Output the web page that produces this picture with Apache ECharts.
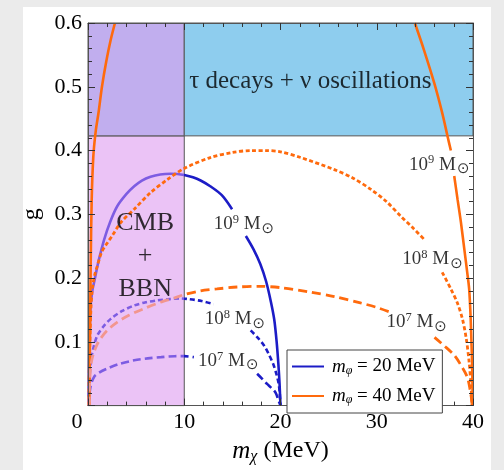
<!DOCTYPE html>
<html><head><meta charset="utf-8">
<script src="https://cdn.jsdelivr.net/npm/echarts@6/dist/echarts.min.js"></script>
<style>
html,body{margin:0;padding:0;background:#ebebeb;width:504px;height:470px;overflow:hidden;}
#panel{position:absolute;left:23px;top:7px;width:468px;height:463px;background:#fff;}
#chart{position:absolute;left:0;top:0;width:504px;height:470px;}
</style></head><body>
<div id="panel"></div><div id="chart"></div>
<script>
const FONT = 'Liberation Serif';

// Curves: [m_chi (MeV), g]; a null g leaves the gap where the contour label sits
const blue1e9 = [[0.05,0],[0.1,0.06],[0.18,0.12],[0.28,0.157],[0.45,0.18],[0.63,0.193],[0.9,0.213],[1.15,0.23],[1.67,0.26],[2.3,0.288],[3.05,0.313],[4.0,0.332],[4.8,0.344],[5.6,0.353],[6.5,0.359],[7.5,0.3625],[8.6,0.3635],[9.3,0.3632],[10,0.3615],[10.9,0.358],[11.7,0.353],[12.7,0.344],[13.9,0.33],[14.97,0.308],[15.6,null],[16.4,0.266],[17.2,0.245],[17.9,0.222],[18.5,0.195],[19.0,0.163],[19.35,0.135],[19.6,0.1],[19.78,0.065],[19.9,0.035],[19.97,0.01],[20,0]];
const blue1e8 = [[0.05,0],[0.15,0.04],[0.3,0.07],[0.55,0.09],[0.97,0.11],[1.6,0.124],[2.36,0.136],[3.5,0.148],[4.8,0.157],[6,0.162],[7.2,0.165],[8.5,0.167],[9.65,0.168],[10.5,0.167],[11.8,0.164],[13.05,0.159],[15,null],[16.9,0.118],[17.6,0.107],[18.3,0.094],[18.8,0.08],[19.3,0.063],[19.6,0.048],[19.8,0.035],[19.92,0.02],[20,0]];
const blue1e7 = [[0.05,0],[0.12,0.015],[0.3,0.032],[0.63,0.045],[1.2,0.052],[2.0,0.058],[3.2,0.065],[4.8,0.071],[6.2,0.074],[7.6,0.076],[9.0,0.0775],[10,0.0776],[11,0.076],[12,null],[17.57,0.05],[18.1,0.042],[18.6,0.034],[19.1,0.027],[19.5,0.02],[19.8,0.008],[20,0]];
const orange1e9 = [[0.12,0],[0.17,0.06],[0.21,0.115],[0.28,0.22],[0.38,0.32],[0.55,0.39],[0.8,0.43],[1.1,0.46],[1.45,0.5],[1.9,0.54],[2.35,0.573],[2.8,0.6],[20,null],[33.96,0.6],[34.9,0.558],[35.97,0.506],[36.8,0.459],[37.36,0.422],[37.7,0.4],[37.88,null],[38.05,0.36],[38.4,0.323],[38.75,0.287],[39.1,0.245],[39.4,0.209],[39.6,0.183],[39.75,0.14],[39.85,0.094],[39.93,0.05],[39.97,0]];
const orange1e8 = [[0.08,0],[0.12,0.05],[0.2,0.1],[0.3,0.15],[0.45,0.183],[0.7,0.205],[0.97,0.219],[1.4,0.24],[2.0,0.255],[2.5,0.266],[3.4,0.287],[4.8,0.308],[6.5,0.334],[8.3,0.355],[10,0.372],[12.7,0.389],[15,0.397],[17,0.4],[18.5,0.4],[20,0.398],[22.1,0.389],[25.6,0.37],[27.5,0.357],[29.4,0.339],[31,0.32],[32.5,0.297],[33.8,0.278],[34.9,0.261],[35.8,null],[36.8,0.209],[37.7,0.183],[38.4,0.16],[38.9,0.136],[39.3,0.105],[39.6,0.068],[39.8,0.03],[39.9,0]];
const orange1e7 = [[0.08,0],[0.15,0.03],[0.25,0.055],[0.4,0.072],[0.63,0.084],[0.95,0.096],[1.3,0.105],[2.0,0.118],[3.05,0.131],[4.3,0.142],[5.8,0.152],[7.5,0.162],[9,0.169],[10,0.174],[11.7,0.18],[13.4,0.183],[15.5,0.186],[17.9,0.187],[20,0.185],[23.1,0.178],[25.6,0.171],[28.3,0.161],[30,0.154],[31.5,0.146],[33.5,null],[36.0,0.107],[37,0.094],[38.05,0.079],[38.8,0.062],[39.4,0.045],[39.7,0.025],[39.85,0.01],[39.9,0]];

// Excluded regions
const tauBoundG = 0.423;   // tau decays + nu oscillations: g above this
const cmbBoundM = 10;      // CMB + BBN: m_chi below this
const xRange = [0, 40];
const yRange = [0, 0.6];

// Legend
const legendNames = ['m20', 'm40'];
const legendMasses = ['20 MeV', '40 MeV'];

// Contour label exponents (10^9, 10^8, 10^7 solar masses)
const massExp = ['9', '8', '7'];

const BLUE = '#1c1cc6', BLUE_IN = '#7d5ce2';
const ORANGE = '#ff6a0d', ORANGE_IN = '#f2968e';

const chart = echarts.init(document.getElementById('chart'));

const tickStyle = {color: '#333', width: 1};
function xAx(pos, showLabel) {
  return {
    type: 'value', min: xRange[0], max: xRange[1], interval: 10, position: pos, z: 10,
    axisLine: {onZero: false, lineStyle: {color: '#555', width: 1}},
    axisTick: {inside: true, length: 7, lineStyle: tickStyle},
    minorTick: {show: true, splitNumber: 5, length: 4, lineStyle: tickStyle},
    splitLine: {show: false}, minorSplitLine: {show: false},
    axisLabel: showLabel ? {
      fontSize: 22, fontFamily: FONT, color: '#000', margin: 6,
      formatter: v => v === 0 ? '{z|0}' : String(v),
      rich: {z: {fontSize: 22, fontFamily: FONT, color: '#000', padding: [0, 22, 0, 0]}}
    } : {show: false}
  };
}
function yAx(pos, showLabel) {
  return {
    type: 'value', min: yRange[0], max: yRange[1], interval: 0.1, position: pos, z: 10,
    axisLine: {onZero: false, lineStyle: {color: '#555', width: 1}},
    axisTick: {inside: true, length: 7, lineStyle: tickStyle},
    minorTick: {show: true, splitNumber: 5, length: 4, lineStyle: tickStyle},
    splitLine: {show: false}, minorSplitLine: {show: false},
    axisLabel: showLabel ? {
      fontSize: 22, fontFamily: FONT, color: '#000', margin: 6,
      formatter: v => v === 0 ? '' : v.toFixed(1)
    } : {show: false}
  };
}

const xBottom = xAx('bottom', true);
xBottom.name = '{i|m}{s|χ}{t| (MeV)}';
xBottom.nameLocation = 'middle';
xBottom.nameGap = 22;
xBottom.nameTextStyle = {
  fontFamily: FONT, fontSize: 24, color: '#000',
  rich: {
    i: {fontFamily: FONT, fontSize: 25, fontStyle: 'italic', color: '#000'},
    s: {fontFamily: FONT, fontSize: 16, fontStyle: 'italic', color: '#000', padding: [12, 0, 0, 0]},
    t: {fontFamily: FONT, fontSize: 24, color: '#000'}
  }
};
const yLeft = yAx('left', true);
yLeft.name = 'g';
yLeft.nameLocation = 'middle';
yLeft.nameRotate = 90;
yLeft.nameGap = 41;
yLeft.nameTextStyle = {fontFamily: FONT, fontSize: 24, color: '#000'};

const regionStyle = c => ({color: c, borderColor: '#555', borderWidth: 1});

function curve(data, color, width, type, z) {
  return {
    type: 'line', data: data, symbol: 'none', showSymbol: false, connectNulls: false,
    smooth: 0.3,
    lineStyle: {color: color, width: width, type: type}, itemStyle: {color: color},
    z: z || 3, silent: true
  };
}

const massRich = {
  n: {fontFamily: FONT, fontSize: 19, color: '#000'},
  p: {fontFamily: FONT, fontSize: 12.5, color: '#000', padding: [0, 0, 9, 0]},
  o: {fontFamily: 'DejaVu Sans', fontSize: 15, color: '#000', padding: [9, 0, 0, 1]},
  a: {fontFamily: FONT, fontSize: 25, color: '#000'},
  c: {fontFamily: FONT, fontSize: 26, color: '#000', lineHeight: 33}
};
const massText = e => '{n|10}{p|' + e + '}{n| M}{o|⊙}';

const annotations = [
  {value: [23.1, 0.508], text: '{a|τ decays + ν oscillations}'},
  {value: [5.94, 0.235], text: '{c|CMB}\n{c|+}\n{c|BBN}'},
  {value: [16.2, 0.284], text: massText(massExp[0])},
  {value: [15.26, 0.135], text: massText(massExp[1])},
  {value: [14.58, 0.0698], text: massText(massExp[2])},
  {value: [36.5, 0.378], text: massText(massExp[0])},
  {value: [35.8, 0.2297], text: massText(massExp[1])},
  {value: [34.15, 0.1307], text: massText(massExp[2])}
];

const legendIcon = 'path://M0,0 L32,0 L32,2 L0,2 Z';

const option = {
  animation: false,
  backgroundColor: 'transparent',
  textStyle: {fontFamily: FONT},
  grid: {left: 88, right: 31, top: 23, bottom: 63},
  xAxis: [xBottom, xAx('top', false)],
  yAxis: [yLeft, yAx('right', false)],
  legend: {
    data: legendNames.map(n => ({name: n, icon: legendIcon})),
    orient: 'vertical', left: 287, top: 350, z: 20,
    itemWidth: 32, itemHeight: 14, itemGap: 10, padding: [7, 7, 7, 5],
    borderColor: '#444', borderWidth: 1, backgroundColor: '#fff',
    formatter: n => '{i|m}{s|φ}{t| = ' + legendMasses[legendNames.indexOf(n)] + '}',
    textStyle: {
      fontFamily: FONT, fontSize: 19, color: '#000',
      rich: {
        i: {fontFamily: FONT, fontSize: 19, fontStyle: 'italic', color: '#000', padding: [0, 0, 0, 3]},
        s: {fontFamily: FONT, fontSize: 12, fontStyle: 'italic', color: '#000', padding: [8, 0, 0, 0]},
        t: {fontFamily: FONT, fontSize: 19, color: '#000'}
      }
    }
  },
  series: [
    {
      type: 'line', data: [], symbol: 'none', silent: true, z: 1,
      markArea: {
        silent: true, label: {show: false},
        data: [
          [{xAxis: xRange[0], yAxis: yRange[0], itemStyle: regionStyle('#ebc3f6')}, {xAxis: cmbBoundM, yAxis: tauBoundG}],
          [{xAxis: xRange[0], yAxis: tauBoundG, itemStyle: regionStyle('#c1aeee')}, {xAxis: cmbBoundM, yAxis: yRange[1]}],
          [{xAxis: cmbBoundM, yAxis: tauBoundG, itemStyle: regionStyle('#8ecdee')}, {xAxis: xRange[1], yAxis: yRange[1]}]
        ]
      }
    },
    curve(blue1e9, BLUE, 2.6, 'solid'),
    curve(blue1e8, BLUE, 2.6, [5, 3]),
    curve(blue1e7, BLUE, 2.6, [8, 4]),
    curve(orange1e9, ORANGE, 2.6, 'solid', 4),
    curve(orange1e8, ORANGE, 2.8, [4, 2.5], 4),
    curve(orange1e7, ORANGE, 2.8, [9, 5], 4),
    {name: 'm20', type: 'line', data: [], symbol: 'none', lineStyle: {color: BLUE, width: 2}, itemStyle: {color: BLUE}},
    {name: 'm40', type: 'line', data: [], symbol: 'none', lineStyle: {color: ORANGE, width: 2}, itemStyle: {color: ORANGE}},
    {
      type: 'scatter', z: 6, silent: true, symbolSize: 1, itemStyle: {color: 'rgba(0,0,0,0)'},
      label: {show: true, position: 'inside', color: '#000', rich: massRich},
      data: annotations.map(a => ({value: a.value, label: {formatter: a.text}}))
    }
  ]
};
chart.setOption(option);

// Curves look lighter where they pass under the CMB + BBN region: colour them by x
const p0 = chart.convertToPixel({xAxisIndex: 0}, xRange[0]);
const p1 = chart.convertToPixel({xAxisIndex: 0}, xRange[1]);
const pb = chart.convertToPixel({xAxisIndex: 0}, cmbBoundM);
const f = (pb - p0) / (p1 - p0);
const grad = (inside, outside) => new echarts.graphic.LinearGradient(p0, 0, p1, 0, [
  {offset: 0, color: inside}, {offset: f, color: inside},
  {offset: f, color: outside}, {offset: 1, color: outside}
], true);
chart.setOption({series: [
  {},
  {lineStyle: {color: grad(BLUE_IN, BLUE)}},
  {lineStyle: {color: grad(BLUE_IN, BLUE)}},
  {lineStyle: {color: grad(BLUE_IN, BLUE)}},
  {}, {},
  {lineStyle: {color: grad(ORANGE_IN, ORANGE)}}
]});
</script></body></html>
